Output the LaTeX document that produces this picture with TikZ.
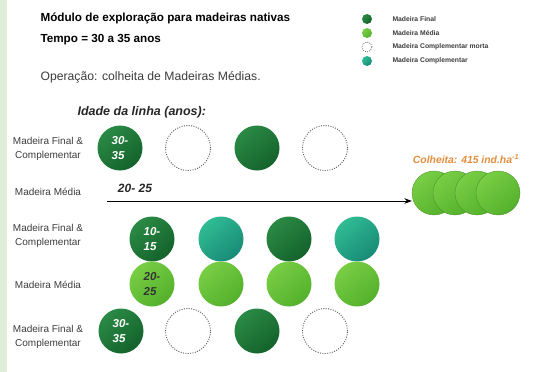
\documentclass[tikz,border=0pt]{standalone}
\usepackage{fontspec}
\setmainfont{Liberation Sans}
\usetikzlibrary{arrows.meta}

\definecolor{finaltop}{RGB}{42,138,68}
\definecolor{finalbottom}{RGB}{20,98,44}
\definecolor{mediatop}{RGB}{120,206,68}
\definecolor{mediabottom}{RGB}{84,176,44}
\definecolor{comptop}{RGB}{48,188,148}
\definecolor{compbottom}{RGB}{24,138,118}
\definecolor{stripegreen}{RGB}{224,237,216}
\definecolor{harvestorange}{RGB}{226,142,62}
\definecolor{labelgray}{RGB}{60,60,60}

\begin{document}
\begin{tikzpicture}[x=1pt, y=-1pt, >=Stealth,
  every node/.style={font=\small},
  tree/.style={circle, minimum size=45pt, inner sep=0pt, align=left,
    font=\bfseries\itshape\fontsize{11.5}{15}\selectfont, text=white},
  final/.style={tree, top color=finaltop, bottom color=finalbottom, shading angle=40},
  media/.style={tree, top color=mediatop, bottom color=mediabottom, shading angle=40, text=black!80},
  comp/.style={tree, top color=comptop, bottom color=compbottom, shading angle=40},
  morta/.style={tree, draw=black!65, line width=0.9pt, dash pattern=on 1pt off 1.4pt},
  harvest/.style={media, minimum size=44pt, draw=mediabottom!80!black, line width=0.3pt},
  legdot/.style={circle, minimum size=10pt, inner sep=0pt},
  legtext/.style={anchor=west, font=\bfseries\fontsize{6.8}{8}\selectfont, text=labelgray},
  rowlabel/.style={align=center, font=\fontsize{10}{14}\selectfont, text=labelgray},
  heading/.style={anchor=west, font=\bfseries\fontsize{11.7}{14}\selectfont}]
\useasboundingbox (0,0) rectangle (533,372);
\fill[stripegreen] (0,0) rectangle (7,372);

\node[heading] (title) at (37,18) {Módulo de exploração para madeiras nativas};
\node[heading] (tempo) at (37,40) {Tempo = 30 a 35 anos};
\node[anchor=west, font=\fontsize{12.2}{14}\selectfont, text=labelgray] (oper) at (37,77) {Operação: colheita de Madeiras Médias.};

\node[legdot, top color=finaltop, bottom color=finalbottom, shading angle=40] (lf) at (367,19) {};
\node[legdot, top color=mediatop, bottom color=mediabottom, shading angle=40] (lm) at (367,33) {};
\node[legdot, draw=black!65, line width=0.7pt, dash pattern=on 0.9pt off 1.2pt] (lx) at (367,47) {};
\node[legdot, top color=comptop, bottom color=compbottom, shading angle=40] (lc) at (367,61) {};
\node[legtext] (tf) at (389,19) {Madeira Final};
\node[legtext] (tm) at (389,33) {Madeira Média};
\node[legtext] (tx) at (389,47) {Madeira Complementar morta};
\node[legtext] (tc) at (389,61) {Madeira Complementar};

\node[anchor=west, font=\bfseries\itshape\fontsize{12.5}{14}\selectfont, text=black!85] (idade) at (74,112) {Idade da linha (anos):};

\node[rowlabel] (r1) at (48,149) {Madeira Final \&\\Complementar};
\node[final] (a1) at (120,148) {30-\\35};
\node[morta] (a2) at (188,148) {};
\node[final] (a3) at (257,148) {};
\node[morta] (a4) at (325,148) {};

\node[rowlabel] (r2) at (48,192) {Madeira Média};
\node[font=\bfseries\itshape\fontsize{12}{14}\selectfont, text=black!85] (idmedia) at (135,188) {20- 25};
\coordinate (start) at (107,201);

\node[harvest] (h1) at (434,193) {};
\node[harvest] (h2) at (455,193) {};
\node[harvest] (h3) at (477,193) {};
\node[harvest] (h4) at (498,193) {};
\node[font=\bfseries\itshape\fontsize{10.4}{12}\selectfont, text=harvestorange] (colheita) at (466,159) {Colheita: 415 ind.ha\textsuperscript{-1}};
\draw[->, line width=1pt] (start) -- (start -| h1.west);

\node[rowlabel] (r3) at (48,236) {Madeira Final \&\\Complementar};
\node[final] (b1) at (152,239) {10-\\15};
\node[comp] (b2) at (221,239) {};
\node[final] (b3) at (289,239) {};
\node[comp] (b4) at (357,239) {};

\node[rowlabel] (r4) at (48,285) {Madeira Média};
\node[media] (c1) at (152,284) {20-\\25};
\node[media] (c2) at (221,284) {};
\node[media] (c3) at (289,284) {};
\node[media] (c4) at (357,284) {};

\node[rowlabel] (r5) at (48,337) {Madeira Final \&\\Complementar};
\node[final] (d1) at (121,331) {30-\\35};
\node[morta] (d2) at (188,331) {};
\node[final] (d3) at (257,331) {};
\node[morta] (d4) at (325,331) {};
\end{tikzpicture}
\end{document}
